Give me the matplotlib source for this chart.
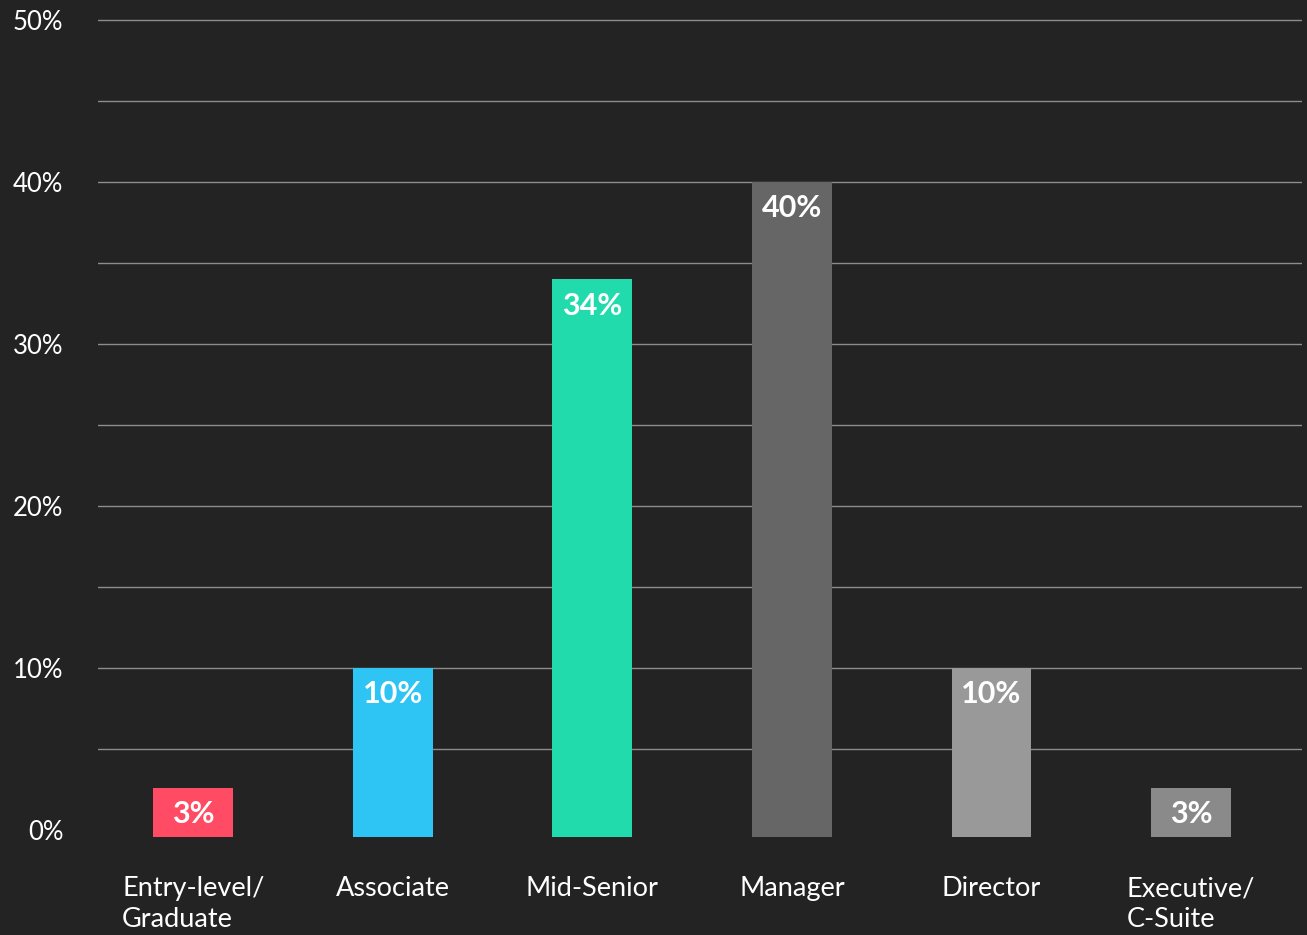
import numpy as np
import matplotlib.pyplot as plt
from matplotlib import font_manager

categories = ['Entry-level/\nGraduate', 'Associate', 'Mid-Senior', 'Manager', 'Director', 'Executive/\nC-Suite']
values = [2.6, 10, 34, 40, 10, 2.6]
value_labels = ['3%', '10%', '34%', '40%', '10%', '3%']
colors = ['#FF4B64', '#2EC4F3', '#22DBAD', '#666666', '#999999', '#8A8A8A']
y_ticks = [0, 10, 20, 30, 40, 50]
y_minor = [5, 15, 25, 35, 45]

bg = '#232323'
base = -0.45  # bars start a touch below the zero line
names = {f.name for f in font_manager.fontManager.ttflist}
family = 'Lato' if 'Lato' in names else 'DejaVu Sans'
plt.rcParams['font.family'] = [family, 'DejaVu Sans']

fig = plt.figure(figsize=(13.07, 9.35), dpi=100, facecolor=bg)
ax = fig.add_axes([0.075, 0.1045, 0.9212, 0.8758], facecolor=bg)

x = np.arange(len(categories))
ax.bar(x, np.array(values) - base, width=0.4, color=colors, bottom=base, zorder=3)

for xi, v, lab in zip(x, values, value_labels):
    ax.annotate(lab, (xi, v), xytext=(0, -19), textcoords='offset points',
                ha='center', va='center', color='white', fontsize=22,
                fontweight='bold', zorder=4)

ax.set_xlim(-0.477, 5.556)
ax.set_ylim(base, 50.1)
ax.set_yticks(y_ticks)
ax.set_yticklabels([f'{t}%' for t in y_ticks])
ax.set_yticks(y_minor, minor=True)
ax.grid(axis='y', which='both', color='#8C8C8C', linewidth=1, zorder=0)
ax.get_ygridlines()[0].set_visible(False)

ax.set_xticks(x)
ax.set_xticklabels(categories, multialignment='left', linespacing=1.3)
ax.tick_params(axis='y', which='both', length=0, pad=25, labelsize=18.5, labelcolor='white')
ax.tick_params(axis='x', length=0, pad=28, labelsize=19.5, labelcolor='white')

for s in ax.spines.values():
    s.set_visible(False)

fig.savefig('out.png', dpi=100, facecolor=bg)
